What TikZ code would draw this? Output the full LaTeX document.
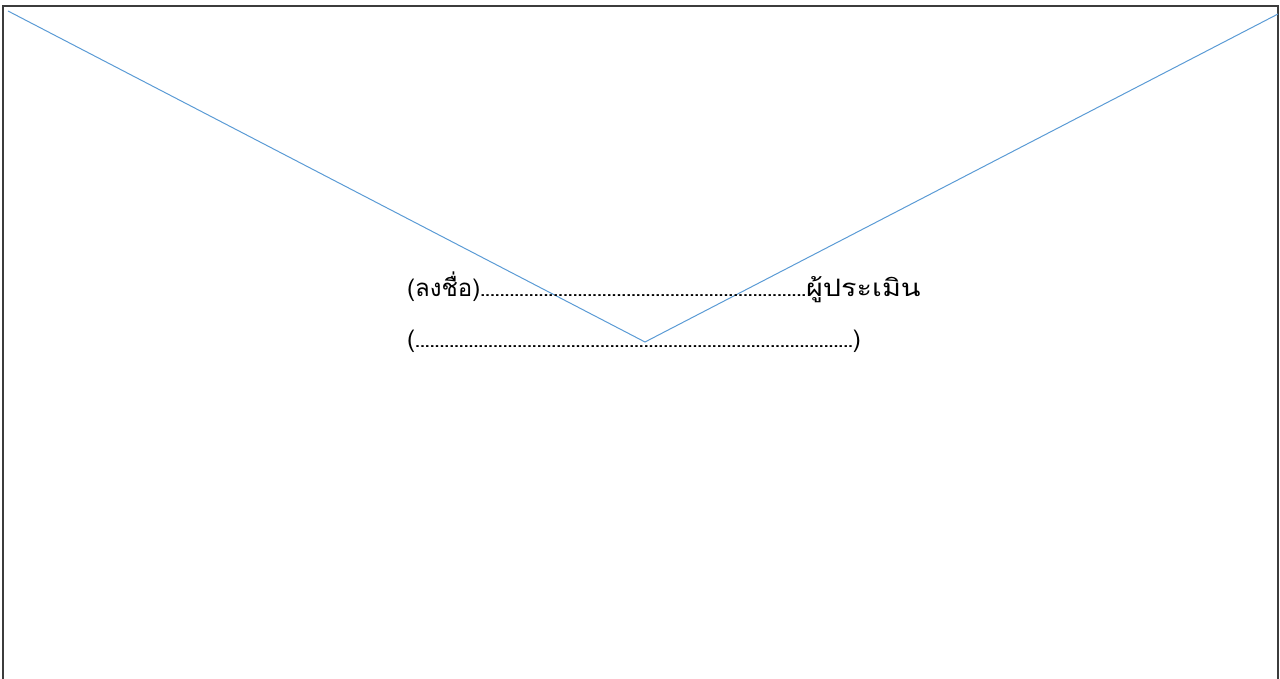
\documentclass[tikz,border=0pt]{standalone}
\usepackage{fontspec}
\newfontfamily\thaifont[Script=Thai]{Loma}
\newfontfamily\thaiwide[Script=Thai,FakeStretch=1.2]{Loma}
\newcommand{\sigdots}[1]{{\bfseries\fontsize{17.5}{20}\selectfont #1}}
\definecolor{lineblue}{RGB}{91,155,213}
\definecolor{frame}{RGB}{60,60,60}
\tikzset{
  vline/.style={draw=lineblue, line width=1pt},
  frameline/.style={draw=frame, line width=1.3pt},
  sig/.style={anchor=base west, inner sep=0pt, font=\thaifont\fontsize{24}{28}\selectfont}
}
\begin{document}
\begin{tikzpicture}[x=1pt,y=-1pt]
\useasboundingbox (0,0) rectangle (1280,679);
\coordinate (fbl) at (3,690);
\coordinate (ftl) at (3,6);
\coordinate (ftr) at (1278,6);
\coordinate (fbr) at (1278,690);
\draw[frameline] (fbl) -- (ftl) -- (ftr) -- (fbr);
\coordinate (vl) at (8,11);
\coordinate (vm) at (645,342);
\coordinate (vr) at (1278,14);
\draw[vline] (vl) -- (vm) -- (vr);
\node[sig] (l1) at (407,296) {(ลงชื่อ)\sigdots{...................................................................}{\thaiwide ผู้ประเมิน}};
\node[sig] (l2) at (407,347) {(\sigdots{..........................................................................................})};
\end{tikzpicture}
\end{document}
